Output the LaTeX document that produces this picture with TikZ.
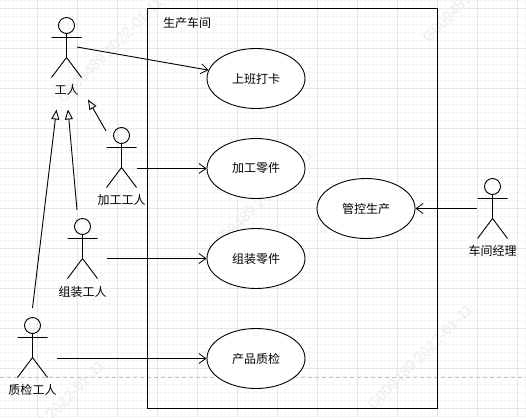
\documentclass[tikz,border=0pt]{standalone}
\usepackage{fontspec}
\setmainfont{Noto Sans CJK SC}
\newfontfamily\wmfont{Liberation Sans}
\usetikzlibrary{shapes.geometric,arrows.meta}
\definecolor{gridmajor}{HTML}{E6E6E6}
\definecolor{gridminor}{HTML}{F6F6F6}
\definecolor{wmark}{HTML}{EDEDED}
\definecolor{pagebreak}{HTML}{C4C4C4}
\tikzset{
  x=1pt,y=-1pt,
  usecase/.style={draw=black,fill=white,ellipse,line width=0.9pt,minimum width=98pt,minimum height=60pt,inner sep=0pt,font=\fontsize{12}{14}\selectfont},
  boundary/.style={draw=black,line width=1pt,minimum width=290pt,minimum height=400pt,inner sep=0pt},
  actorline/.style={draw=black,line width=0.9pt},
  actorlabel/.style={font=\fontsize{12}{14}\selectfont,inner sep=0pt},
  titlelabel/.style={font=\fontsize{12}{14}\selectfont,inner sep=0pt},
  assoc/.style={draw=black,line width=0.9pt,-{Straight Barb[length=7pt,width=10pt,line width=0.8pt]}},
  generalize/.style={draw=black,line width=0.9pt,-{Triangle[open,length=10pt,width=8pt,line width=0.9pt]}},
  watermark/.style={text=wmark,rotate=45,font=\wmfont\fontsize{15}{15}\selectfont,inner sep=0pt},
}
% #1 name, #2 centre x, #3 head top y, #4 label, #5 label centre y
\newcommand{\umlactor}[5]{%
  \draw[actorline] (#2,#3+8) circle[radius=8];
  \draw[actorline] (#2,#3+16) -- (#2,#3+40) (#2-15,#3+20) -- (#2+15,#3+20)
     (#2-15,#3+60) -- (#2,#3+40) -- (#2+15,#3+60);
  \node[actorlabel] (#1) at (#2,#5) {#4};
}
\begin{document}
\begin{tikzpicture}
\useasboundingbox (0,0) rectangle (526,417);
\clip (0,0) rectangle (526,417);
\fill[white] (0,0) rectangle (526,417);
% grid
\foreach \i in {0,...,66} {\draw[gridminor,line width=0.7pt] ({-3+8*\i+0.5},0) -- ({-3+8*\i+0.5},417);}
\foreach \i in {0,...,52} {\draw[gridminor,line width=0.7pt] (0,{8*\i+0.5}) -- (526,{8*\i+0.5});}
\foreach \i in {0,...,13} {\draw[gridmajor,line width=0.9pt] ({-3+40*\i+0.5},0) -- ({-3+40*\i+0.5},417);}
\foreach \i in {0,...,10} {\draw[gridmajor,line width=0.9pt] (0,{8+40*\i+0.5}) -- (526,{8+40*\i+0.5});}
% watermarks
\node[watermark] (w1) at (110,50) {G009489 2022-01-11};
\node[watermark] (w2) at (260,202) {G009489 2022-01-11};
\node[watermark] (w3) at (420,357) {G009489 2022-01-11};
\node[watermark] (w4) at (52,413) {G009489 2022-01-11};
\node[watermark] (w5) at (475,-10) {G009489 2022-01-11};
% page break
\coordinate (pbl) at (0,377.5);
\coordinate (pbr) at (526,377.5);
\draw[pagebreak,line width=0.8pt,dash pattern=on 4pt off 3pt] (pbl) -- (pbr);
% system boundary
\node[boundary] (sys) at (292.5,208.5) {};
\node[titlelabel,anchor=west] (systitle) at (163,22.5) {生产车间};
% use cases
\node[usecase] (u1) at (256,78.5) {上班打卡};
\node[usecase] (u2) at (256,168.5) {加工零件};
\node[usecase] (u3) at (256,258.5) {组装零件};
\node[usecase] (u4) at (256,358.5) {产品质检};
\node[usecase] (u5) at (366,208.5) {管控生产};
% actors
\umlactor{a1}{66.5}{17.5}{工人}{90}
\umlactor{a2}{121.5}{127.5}{加工工人}{200}
\umlactor{a3}{82.5}{218.5}{组装工人}{292}
\umlactor{a4}{32.5}{317.5}{质检工人}{390}
\umlactor{a5}{492.5}{178.5}{车间经理}{251}
% connector ends
\coordinate (a1out) at (77,47);
\coordinate (a2out) at (137,168.5);
\coordinate (a3out) at (107,258.5);
\coordinate (a4out) at (57,358.5);
\coordinate (a5out) at (477,208.5);
\coordinate (a2gen) at (106,131);
\coordinate (a3gen) at (77,210);
\coordinate (a4gen) at (32.5,308);
\coordinate (a1g2) at (88,99.5);
\coordinate (a1g3) at (68,109.5);
\coordinate (a1g4) at (56.5,109.5);
% connectors
\draw[assoc] (a1out) -- (u1.170);
\draw[assoc] (a2out) -- (u2.west);
\draw[assoc] (a3out) -- (u3.west);
\draw[assoc] (a4out) -- (u4.west);
\draw[assoc] (a5out) -- (u5.east);
\draw[generalize] (a2gen) -- (a1g2);
\draw[generalize] (a3gen) -- (a1g3);
\draw[generalize] (a4gen) -- (a1g4);
\end{tikzpicture}
\end{document}
